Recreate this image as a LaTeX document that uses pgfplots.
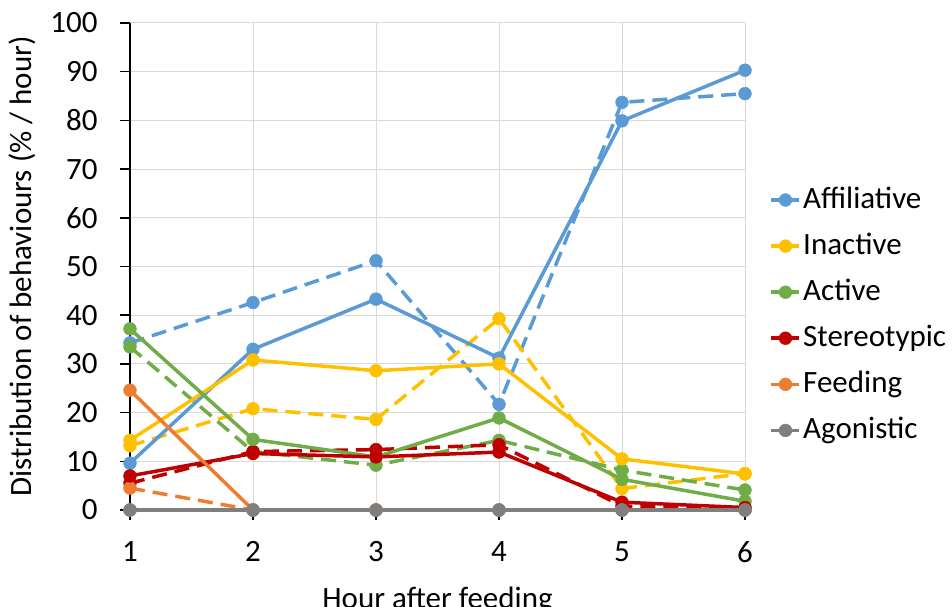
\documentclass[border=0pt]{standalone}
\usepackage{pgfplots}
\pgfplotsset{compat=1.18}
\usepackage{fontspec}
\setmainfont{Carlito}
\definecolor{cBlue}{HTML}{5B9BD5}
\definecolor{cYellow}{HTML}{FFC000}
\definecolor{cGreen}{HTML}{70AD47}
\definecolor{cRed}{HTML}{C00000}
\definecolor{cOrange}{HTML}{ED7D31}
\definecolor{cGray}{HTML}{7F7F7F}
\begin{document}
\fontsize{31}{36}\selectfont
\begin{tikzpicture}
\begin{axis}[
    name=ax,
    scale only axis,
    width=615pt, height=487pt,
    xmin=1, xmax=6, ymin=0, ymax=100,
    xtick={1,...,6}, ytick={0,10,...,100},
    axis x line=bottom, axis y line=left,
    axis line style={-, black, line width=1.5pt},
    tick style={black, line width=1.5pt},
    tick align=outside, major tick length=10pt,
    grid=major, grid style={line width=1pt, color=black!15},
    /pgf/number format/assume math mode=true,
    ticklabel style={font=\fontsize{31}{36}\selectfont},
    xticklabel style={yshift=-11pt},
    yticklabel style={xshift=-12pt},
    label style={font=\fontsize{31}{36}\selectfont},
    xlabel={Hour after feeding},
    ylabel={Distribution of behaviours (\% / hour)},
    xlabel style={yshift=-3pt},
    ylabel shift=-6pt,
    clip=false,
    every axis plot/.append style={line width=3.5pt, mark=*, mark size=6.4pt,
        mark options={solid, line width=0.5pt}},
    legend style={draw=none, fill=none, at={(1.035,0.40)}, anchor=west,
        font=\fontsize{31}{36}\selectfont, row sep=16pt,
        /tikz/every even column/.append style={column sep=3pt}},
    legend cell align=left,
    legend image code/.code={\draw[mark repeat=2, mark phase=2, #1]
        plot coordinates {(0pt,0pt) (14pt,0pt) (28pt,0pt)};},
]
% dashed series
\addplot[cBlue, dash pattern=on 15pt off 8pt, forget plot]
    coordinates {(1,34.3) (2,42.6) (3,51.2) (4,21.7) (5,83.7) (6,85.5)};
\addplot[cYellow, dash pattern=on 15pt off 8pt, forget plot]
    coordinates {(1,13.2) (2,20.8) (3,18.6) (4,39.3) (5,4.4) (6,7.5)};
\addplot[cGreen, dash pattern=on 15pt off 8pt, forget plot]
    coordinates {(1,33.5) (2,12.0) (3,9.2) (4,14.3) (5,8.2) (6,4.1)};
\addplot[cRed, dash pattern=on 15pt off 8pt, forget plot]
    coordinates {(1,5.5) (2,12.0) (3,12.4) (4,13.4) (5,0.8) (6,0.3)};
\addplot[cOrange, dash pattern=on 15pt off 8pt, forget plot]
    coordinates {(1,4.5) (2,0) (3,0) (4,0) (5,0) (6,0)};
\addplot[cGray, dash pattern=on 15pt off 8pt, forget plot]
    coordinates {(1,0) (2,0) (3,0) (4,0) (5,0) (6,0)};
% solid series
\addplot[cBlue] coordinates {(1,9.6) (2,33.0) (3,43.3) (4,31.2) (5,79.9) (6,90.3)};
\addlegendentry{Affiliative}
\addplot[cYellow] coordinates {(1,14.3) (2,30.8) (3,28.6) (4,30.0) (5,10.5) (6,7.4)};
\addlegendentry{Inactive}
\addplot[cGreen] coordinates {(1,37.2) (2,14.5) (3,10.9) (4,18.9) (5,6.3) (6,1.8)};
\addlegendentry{Active}
\addplot[cRed] coordinates {(1,7.0) (2,11.6) (3,10.9) (4,11.9) (5,1.6) (6,0.5)};
\addlegendentry{Stereotypic}
\addplot[cOrange] coordinates {(1,24.6) (2,0) (3,0) (4,0) (5,0) (6,0)};
\addlegendentry{Feeding}
\addplot[cGray] coordinates {(1,0) (2,0) (3,0) (4,0) (5,0) (6,0)};
\addlegendentry{Agonistic}
\end{axis}
\pgfresetboundingbox
\path (ax.south west) ++(-130pt,-97pt) rectangle ++(952pt,607pt);
\end{tikzpicture}
\end{document}
